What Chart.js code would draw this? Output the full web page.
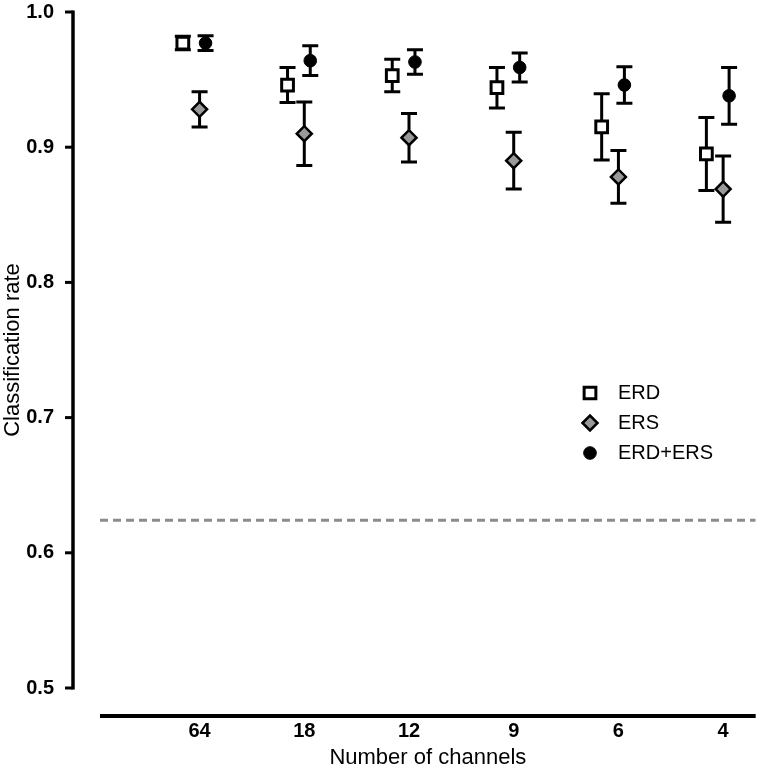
<!DOCTYPE html>
<html>
<head>
<meta charset="utf-8">
<script src="https://cdn.jsdelivr.net/npm/chart.js@4.4.1/dist/chart.umd.min.js"></script>
<style>
html,body{margin:0;padding:0;background:#fff}
#wrap{position:relative;width:767px;height:773px}
</style>
</head>
<body>
<div id="wrap"><canvas id="chart"></canvas></div>
<script>
const channels=['64','18','12','9','6','4']
const erd=[0.977,0.946,0.953,0.944,0.915,0.895]
const erdErr=[0.005,0.013,0.012,0.015,0.0245,0.027]
const ers=[0.928,0.910,0.907,0.890,0.878,0.869]
const ersErr=[0.013,0.0235,0.018,0.021,0.0195,0.0245]
const both=[0.977,0.964,0.963,0.959,0.946,0.938]
const bothErr=[0.0055,0.011,0.009,0.0107,0.0135,0.021]
const chance=0.624
const yTicks=[0.5,0.6,0.7,0.8,0.9,1.0]

const FONT='"Liberation Sans", Arial, sans-serif'
const xMin=-0.951, xMax=5.311

function pts(vals,errs,off){
    return vals.map((v,i)=>({x:i+off,y:v,err:errs[i]}))
}

// error bars under the markers
const errorBars={
    id:'errorBars',
    beforeDatasetsDraw(chart){
        const ctx=chart.ctx
        const xs=chart.scales.x, ys=chart.scales.y
        ctx.save()
        ctx.strokeStyle='#000'
        ctx.lineWidth=3
        chart.data.datasets.forEach(ds=>{
            if (!ds.errBars) return
            ds.data.forEach(p=>{
                const px=xs.getPixelForValue(p.x)
                const top=ys.getPixelForValue(p.y+p.err)
                const bot=ys.getPixelForValue(p.y-p.err)
                ctx.beginPath()
                ctx.moveTo(px,top); ctx.lineTo(px,bot)
                ctx.moveTo(px-8,top); ctx.lineTo(px+8,top)
                ctx.moveTo(px-8,bot); ctx.lineTo(px+8,bot)
                ctx.stroke()
            })
        })
        ctx.restore()
    }
}

// detached prism-style axes
const axes={
    id:'axes',
    afterDraw(chart){
        const ctx=chart.ctx, a=chart.chartArea
        const ys=chart.scales.y
        const ax=a.left-27
        ctx.save()
        ctx.strokeStyle='#000'
        ctx.lineWidth=3.5
        ctx.beginPath()
        ctx.moveTo(ax,ys.getPixelForValue(1.0)-1.5)
        ctx.lineTo(ax,ys.getPixelForValue(0.5)+1.5)
        ctx.stroke()
        ctx.lineWidth=3
        yTicks.forEach(v=>{
            const py=ys.getPixelForValue(v)
            ctx.beginPath(); ctx.moveTo(ax-8,py); ctx.lineTo(ax,py); ctx.stroke()
        })
        ctx.lineWidth=4
        ctx.beginPath()
        ctx.moveTo(a.left,a.bottom+28); ctx.lineTo(a.right,a.bottom+28)
        ctx.stroke()
        ctx.restore()
    }
}

const legendBox={
    id:'legendBox',
    afterDraw(chart){
        const ctx=chart.ctx
        ctx.save()
        ctx.font='20px '+FONT
        ctx.fillStyle='#000'
        ctx.textBaseline='middle'
        let y=393
        chart.data.datasets.forEach(ds=>{
            if (!ds.errBars) return
            ctx.fillStyle=ds.backgroundColor
            ctx.strokeStyle=ds.borderColor
            ctx.lineWidth=ds.borderWidth
            Chart.helpers.drawPoint(ctx,{pointStyle:ds.pointStyle,radius:ds.pointRadius,rotation:0,borderWidth:ds.borderWidth},590,y)
            ctx.fillStyle='#000'
            ctx.fillText(ds.label,618,y)
            y+=30
        })
        ctx.restore()
    }
}

new Chart(document.getElementById('chart'),{
    type:'scatter',
    data:{
        datasets:[
            {label:'ERD',data:pts(erd,erdErr,-0.16),errBars:true,pointStyle:'rect',pointRadius:8.3,
             backgroundColor:'#fff',borderColor:'#000',borderWidth:3},
            {label:'ERS',data:pts(ers,ersErr,0),errBars:true,pointStyle:'rectRot',pointRadius:7.5,
             backgroundColor:'#999999',borderColor:'#000',borderWidth:2.5},
            {label:'ERD+ERS',data:pts(both,bothErr,0.057),errBars:true,pointStyle:'circle',pointRadius:6.3,
             backgroundColor:'#000',borderColor:'#000',borderWidth:1},
            {label:'chance',type:'line',data:[{x:xMin,y:chance},{x:xMax,y:chance}],showLine:true,
             borderColor:'#8c8c8c',borderWidth:3,borderDash:[8,5],pointRadius:0,fill:false}
        ]
    },
    options:{
        responsive:true,
        maintainAspectRatio:false,
        animation:false,
        devicePixelRatio:1,
        layout:{padding:{top:12,right:2,left:0,bottom:0}},
        plugins:{legend:{display:false},tooltip:{enabled:false}},
        scales:{
            x:{
                type:'linear',min:xMin,max:xMax,
                grid:{display:false},border:{display:false},
                afterBuildTicks:s=>{s.ticks=channels.map((c,i)=>({value:i}))},
                afterFit:s=>{s.height=85},
                ticks:{callback:v=>channels[v],font:{family:FONT,size:20,weight:'bold'},color:'#000',
                       padding:23,maxRotation:0,autoSkip:false},
                title:{display:true,text:'Number of channels',color:'#000',
                       font:{family:FONT,size:22},padding:{top:0,bottom:2}}
            },
            y:{
                min:0.5,max:1.0,
                grid:{display:false},border:{display:false},
                afterBuildTicks:s=>{s.ticks=yTicks.map(v=>({value:v}))},
                afterFit:s=>{s.width=100; s.paddingTop=0; s.paddingBottom=0},
                ticks:{callback:v=>v.toFixed(1),font:{family:FONT,size:20,weight:'bold'},color:'#000',padding:38},
                title:{display:true,text:'Classification rate',color:'#000',
                       font:{family:FONT,size:22},padding:{top:0,bottom:0}}
            }
        }
    },
    plugins:[errorBars,axes,legendBox]
})
</script>
</body>
</html>
